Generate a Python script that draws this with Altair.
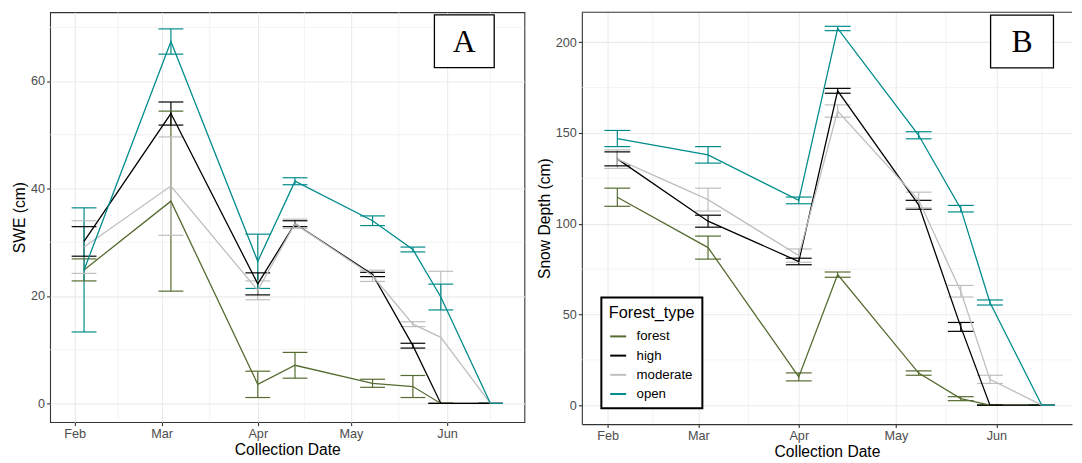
import altair as alt
import pandas as pd

# ---------------- data ----------------
DATES = ["2021-02-04", "2021-03-04", "2021-04-01", "2021-04-13",
         "2021-05-08", "2021-05-21", "2021-05-30", "2021-06-15"]
FOREST_TYPES = ["forest", "high", "moderate", "open"]
COLORS = ["#556B2F", "#000000", "#BEBEBE", "#008B8B"]

# Panel A: SWE (cm) - mean and half-length of error bar
SWE_FOREST = [24.85, 37.65, 3.55, 7.1, 3.75, 3.15, 0.0, 0.0]
SWE_FOREST_ERR = [2.05, 16.75, 2.45, 2.4, 0.75, 2.05, 0.0, 0.0]
SWE_HIGH = [30.15, 53.95, 22.25, 33.45, 24.0, 10.75, 0.0, 0.0]
SWE_HIGH_ERR = [2.75, 2.15, 2.05, 0.55, 0.4, 0.45, 0.0, 0.0]
SWE_MODERATE = [29.1, 40.45, 21.05, 33.45, 23.75, 14.75, 12.3, 0.0]
SWE_MODERATE_ERR = [4.9, 9.15, 1.75, 0.85, 1.05, 0.45, 12.3, 0.0]
SWE_OPEN = [24.85, 67.35, 26.45, 41.35, 34.0, 28.65, 19.8, 0.0]
SWE_OPEN_ERR = [11.55, 2.35, 5.05, 0.65, 0.9, 0.45, 2.4, 0.0]

# Panel B: Snow depth (cm)
DEPTH_FOREST = [114.6, 86.85, 15.6, 71.95, 17.7, 3.6, 0.0, 0.0]
DEPTH_FOREST_ERR = [5.0, 6.35, 2.2, 1.45, 1.2, 1.1, 0.0, 0.0]
DEPTH_HIGH = [135.75, 101.4, 79.2, 173.25, 110.45, 43.15, 0.0, 0.0]
DEPTH_HIGH_ERR = [3.85, 3.3, 1.8, 1.35, 2.45, 2.45, 0.0, 0.0]
DEPTH_MODERATE = [135.6, 113.3, 82.45, 162.1, 113.05, 62.8, 14.25, 0.0]
DEPTH_MODERATE_ERR = [5.1, 6.3, 3.65, 3.4, 4.35, 3.2, 2.25, 0.0]
DEPTH_OPEN = [146.95, 137.95, 112.85, 207.6, 148.75, 108.3, 56.6, 0.0]
DEPTH_OPEN_ERR = [4.45, 4.55, 1.85, 1.2, 1.95, 1.8, 1.4, 0.0]

MONTH_TICKS = ["2021-02-01", "2021-03-01", "2021-04-01", "2021-05-01", "2021-06-01"]
MINOR_X = ["2021-02-15T00:00", "2021-03-16T12:00", "2021-04-16T00:00",
           "2021-05-16T12:00", "2021-06-15T00:00"]

SWE_TICKS = [0, 20, 40, 60]
SWE_MINOR = [10, 30, 50, 70]
DEPTH_TICKS = [0, 50, 100, 150, 200]
DEPTH_MINOR = [25, 75, 125, 175]

X_DOMAIN_A = ["2021-01-24T01:12", "2021-06-25T22:48"]
X_DOMAIN_B = ["2021-01-24T01:12", "2021-06-24T08:00"]
Y_DOMAIN_A = [-3.485, 72.81]
Y_DOMAIN_B = [-10.44, 216.57]

BOX_A_X = ["2021-05-27T22:30", "2021-06-16T05:00"]
BOX_A_Y = [62.5, 72.3]
BOX_B_X = ["2021-05-30T04:50", "2021-06-18T14:30"]
BOX_B_Y = [185.9, 215.0]

CAP_HALF_DAYS = 4

FONT = "Liberation Sans"
SERIF = "Liberation Serif"


def dt(s):
    t = pd.Timestamp(s)
    return alt.DateTime(year=t.year, month=t.month, date=t.day,
                        hours=t.hour, minutes=t.minute)


def make_frame(means, errs):
    rows = []
    for ft, m_list, e_list in zip(FOREST_TYPES, means, errs):
        for d, m, e in zip(DATES, m_list, e_list):
            t = pd.Timestamp(d)
            rows.append({"date": t, "type": ft, "mean": m, "lo": m - e, "hi": m + e,
                         "c0": t - pd.Timedelta(days=CAP_HALF_DAYS),
                         "c1": t + pd.Timedelta(days=CAP_HALF_DAYS)})
    return pd.DataFrame(rows)


def panel(df, ytitle, ydomain, yticks, yminor, xdomain, width, height,
          box_x, box_y, label, legend, full_border):
    xscale = alt.Scale(domain=[dt(v) for v in xdomain])
    xaxis = alt.Axis(values=[dt(m) for m in MONTH_TICKS], format="%b",
                     title="Collection Date", grid=True, domain=not full_border)
    yscale = alt.Scale(domain=ydomain, nice=False, zero=False)
    yaxis = alt.Axis(values=yticks, title=ytitle, grid=True, domain=not full_border)
    color = alt.Color("type:N", scale=alt.Scale(domain=FOREST_TYPES, range=COLORS),
                      legend=legend)

    minor_x_df = pd.DataFrame({"d": [pd.Timestamp(v) for v in MINOR_X]})
    minor_x = alt.Chart(minor_x_df).mark_rule(
        color="#EDEDED", strokeWidth=0.7).encode(
        x=alt.X("d:T", scale=xscale, axis=xaxis))
    minor_y = alt.Chart(pd.DataFrame({"v": yminor})).mark_rule(
        color="#EDEDED", strokeWidth=0.7).encode(
        y=alt.Y("v:Q", scale=yscale, axis=yaxis))

    base = alt.Chart(df)
    bars = base.mark_rule(strokeWidth=1.2).encode(
        x=alt.X("date:T", scale=xscale, axis=xaxis),
        y=alt.Y("lo:Q", scale=yscale, axis=yaxis),
        y2="hi:Q", color=color)
    caps_df = df.melt(id_vars=["type", "c0", "c1"], value_vars=["lo", "hi"],
                      value_name="cap")
    caps = alt.Chart(caps_df).mark_rule(strokeWidth=1.2).encode(
        x=alt.X("c0:T", scale=xscale, axis=xaxis), x2="c1:T",
        y=alt.Y("cap:Q", scale=yscale, axis=yaxis), color=color)
    lines = base.mark_line(strokeWidth=1.3).encode(
        x=alt.X("date:T", scale=xscale, axis=xaxis),
        y=alt.Y("mean:Q", scale=yscale, axis=yaxis),
        color=color)

    t0, t1 = pd.Timestamp(box_x[0]), pd.Timestamp(box_x[1])
    box_df = pd.DataFrame({"x0": [t0], "x1": [t1], "y0": [box_y[0]], "y1": [box_y[1]],
                           "xm": [t0 + (t1 - t0) / 2], "ym": [(box_y[0] + box_y[1]) / 2],
                           "label": [label]})
    box = alt.Chart(box_df).mark_rect(fill="white", stroke="black", strokeWidth=1.3).encode(
        x=alt.X("x0:T", scale=xscale, axis=xaxis), x2="x1:T",
        y=alt.Y("y0:Q", scale=yscale, axis=yaxis), y2="y1:Q")
    text = alt.Chart(box_df).mark_text(font=SERIF, fontSize=32, color="black",
                                       baseline="middle", align="center", dy=1).encode(
        x=alt.X("xm:T", scale=xscale, axis=xaxis),
        y=alt.Y("ym:Q", scale=yscale, axis=yaxis), text="label:N")

    layers = [minor_x, minor_y, bars, caps, lines, box, text]
    if not full_border:
        top = alt.Chart(box_df).mark_rule(color="#333333", strokeWidth=1.1).encode(
            x=alt.value(0), x2=alt.value(width), y=alt.value(0))
        layers.append(top)
    ch = alt.layer(*layers).properties(width=width, height=height)
    if not full_border:
        ch = ch.properties(view=alt.ViewBackground(stroke="transparent"))
    return ch


swe = make_frame([SWE_FOREST, SWE_HIGH, SWE_MODERATE, SWE_OPEN],
                 [SWE_FOREST_ERR, SWE_HIGH_ERR, SWE_MODERATE_ERR, SWE_OPEN_ERR])
depth = make_frame([DEPTH_FOREST, DEPTH_HIGH, DEPTH_MODERATE, DEPTH_OPEN],
                   [DEPTH_FOREST_ERR, DEPTH_HIGH_ERR, DEPTH_MODERATE_ERR, DEPTH_OPEN_ERR])

legend_b = alt.Legend(title="Forest_type", orient="none", legendX=19.7, legendY=288,
                      symbolType="stroke", symbolStrokeWidth=2, symbolSize=260)

chart_a = panel(swe, "SWE (cm)", Y_DOMAIN_A, SWE_TICKS, SWE_MINOR, X_DOMAIN_A,
                479, 414, BOX_A_X, BOX_A_Y, "A", None, True)
chart_b = panel(depth, "Snow Depth (cm)", Y_DOMAIN_B, DEPTH_TICKS, DEPTH_MINOR, X_DOMAIN_B,
                495, 416, BOX_B_X, BOX_B_Y, "B", legend_b, False)

chart = alt.hconcat(chart_a, chart_b, spacing=10).resolve_scale(
    color="independent"
).properties(
    padding={"left": 2.5, "top": 0, "right": 0, "bottom": 0}
).configure(font=FONT).configure_view(
    stroke="#333333", strokeWidth=1.1
).configure_axis(
    labelFont=FONT, labelFontSize=12.8, labelColor="#4D4D4D",
    titleFont=FONT, titleFontSize=15.8, titleColor="black", titleFontWeight="normal",
    tickColor="#333333", tickSize=3.5, tickWidth=1.1, labelPadding=2,
    gridColor="#EBEBEB", gridWidth=1.1, domainColor="#333333", domainWidth=1.1
).configure_axisX(titlePadding=2.5).configure_axisY(titlePadding=3).configure_legend(
    strokeColor="black", strokeWidth=2, fillColor="white", padding=7.5,
    titleFont=FONT, titleFontSize=16.4, titleFontWeight="normal", titleColor="black",
    labelFont=FONT, labelFontSize=13.4, labelColor="black",
    rowPadding=3.4, titlePadding=6, labelOffset=9
)

chart.save("out.html", embed_options={"renderer": "svg", "actions": False})
